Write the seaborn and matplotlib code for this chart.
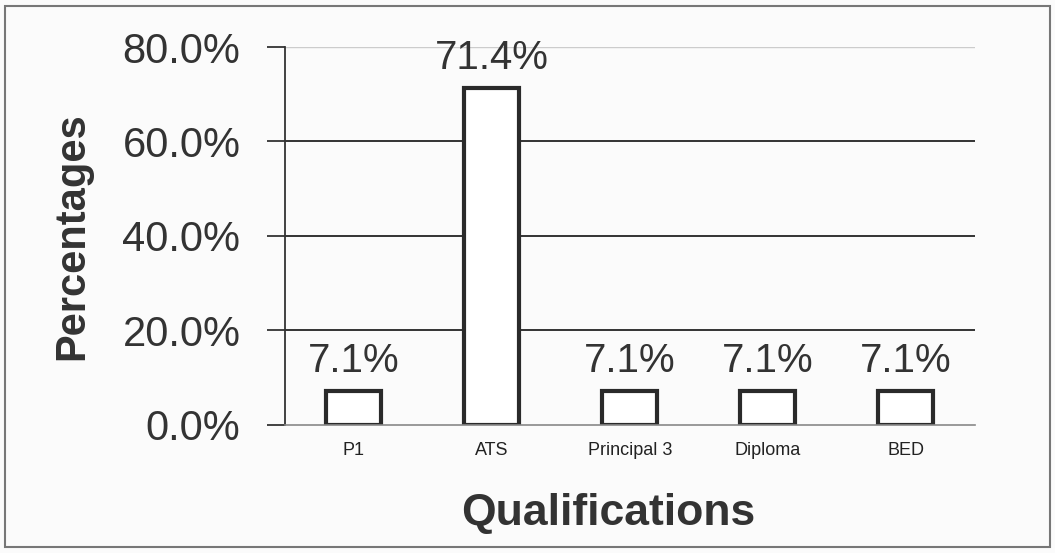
import matplotlib
matplotlib.use("Agg")
import matplotlib.pyplot as plt
import seaborn as sns
import pandas as pd
from matplotlib.patches import Rectangle
from matplotlib.ticker import FuncFormatter

categories = ["P1", "ATS", "Principal 3", "Diploma", "BED"]
percentages = [7.1, 71.4, 7.1, 7.1, 7.1]
y_ticks = [0, 20, 40, 60, 80]

sns.set_theme(style="white")
plt.rcParams['font.family'] = ['Liberation Sans', 'DejaVu Sans']

df = pd.DataFrame({"Qualifications": categories, "Percentages": percentages})

fig = plt.figure(figsize=(10.55, 5.53), dpi=100)
fig.patch.set_facecolor("#fbfbfb")
ax = fig.add_axes([0.270, 0.2315, 0.654, 0.6835])
ax.set_facecolor("#fbfbfb")

sns.barplot(data=df, x="Qualifications", y="Percentages", color="white",
            edgecolor="#2a2a2a", linewidth=3, width=0.4, ax=ax, saturation=1)

ax.set_xlim(-0.5, 4.5)
ax.set_ylim(0, 80)
ax.set_yticks(y_ticks)
ax.yaxis.set_major_formatter(FuncFormatter(lambda v, p: f"{v:.1f}%"))

for yv in y_ticks[1:-1]:
    ax.axhline(yv, color="#333333", lw=1.4, zorder=0)
ax.axhline(80, color="#cccccc", lw=1.0, zorder=0)

for s in ["top", "right"]:
    ax.spines[s].set_visible(False)
ax.spines["left"].set_color("#333333")
ax.spines["left"].set_linewidth(1.3)
ax.spines["bottom"].set_color("#888888")
ax.spines["bottom"].set_linewidth(1.2)
ax.spines["bottom"].set_linestyle((0, (4, 1)))

ax.tick_params(axis="y", which="major", left=True, length=13, width=1.3,
               color="#333333", pad=19, labelsize=30, labelcolor="#333333")
ax.tick_params(axis="x", bottom=False, pad=6, labelsize=13, labelcolor="#222222")

for patch, v in zip(ax.patches, percentages):
    ax.annotate(f"{v:.1f}%", (patch.get_x() + patch.get_width() / 2, patch.get_height()),
                xytext=(0, 8), textcoords="offset points", ha="center", va="bottom",
                fontsize=29, color="#333333", clip_on=False)

ax.set_xlabel("Qualifications", fontsize=32, fontweight="bold", color="#333333", labelpad=25)
ax.xaxis.label.set_x(0.468)
ax.set_ylabel("Percentages", fontsize=30, fontweight="bold", color="#333333", labelpad=22)

fig.patches.append(Rectangle((5 / 1055, 6 / 553), 1045 / 1055, 541 / 553,
                             transform=fig.transFigure, fill=False,
                             edgecolor="#777777", lw=1.5))

fig.savefig("out.png", dpi=100, facecolor=fig.get_facecolor())
